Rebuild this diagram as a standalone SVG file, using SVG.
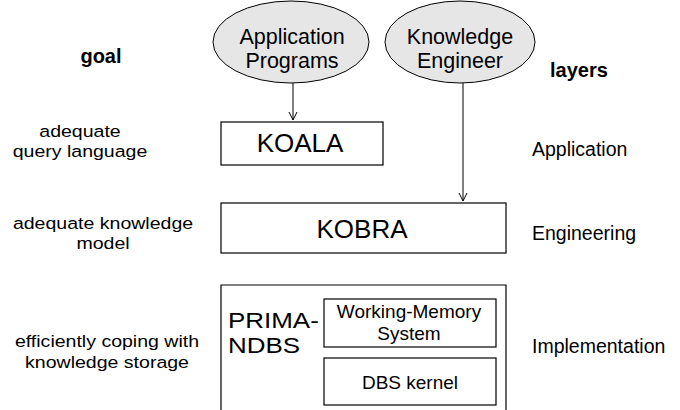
<svg xmlns="http://www.w3.org/2000/svg" width="680" height="410" viewBox="0 0 680 410">
<defs>
<style>
text{font-family:"Liberation Sans",Arial,sans-serif;fill:#000}
.ell{fill:#e6e6e6;stroke:#000;stroke-width:1}
.box{fill:#fff;stroke:#000;stroke-width:1.2}
.lbl{font-size:19.5px}
.lbs{font-size:17px}
.big{font-size:26px}
.pr{font-size:22px}
.mid{font-size:21.5px}
.sm{font-size:19px}
.b{font-weight:bold;font-size:20px}
.c{text-anchor:middle}
.edge{stroke:#000;stroke-width:1;fill:none}
</style>
<marker id="arr" markerWidth="10" markerHeight="10" refX="9" refY="5" orient="auto" markerUnits="userSpaceOnUse">
<path d="M1,1 L9,5 L1,9" fill="none" stroke="#000" stroke-width="1"/>
</marker>
</defs>
<rect width="680" height="410" fill="#fff"/>
<g id="labels-goal">
<text class="b c" x="101" y="63">goal</text>
<text class="lbs c" transform="translate(80,137) scale(1.15,1)">adequate</text>
<text class="lbs c" transform="translate(80,157) scale(1.15,1)">query language</text>
<text class="lbs c" transform="translate(103,229) scale(1.15,1)">adequate knowledge</text>
<text class="lbs c" transform="translate(103,249) scale(1.15,1)">model</text>
<text class="lbs c" transform="translate(107,347) scale(1.15,1)">efficiently coping with</text>
<text class="lbs c" transform="translate(107,368) scale(1.15,1)">knowledge storage</text>
</g>
<g id="labels-layers">
<text class="b" x="550" y="77">layers</text>
<text class="lbl" x="532" y="156">Application</text>
<text class="lbl" x="532" y="240">Engineering</text>
<text class="lbl" x="532" y="353">Implementation</text>
</g>
<g id="connectors">
<line class="edge" x1="293" y1="83" x2="293" y2="120" marker-end="url(#arr)"/>
<line class="edge" x1="463" y1="83" x2="463" y2="201" marker-end="url(#arr)"/>
</g>
<g id="app-programs">
<ellipse class="ell" cx="291" cy="42" rx="78" ry="41"/>
<text class="mid c" x="292" y="44">Application</text>
<text class="mid c" x="292" y="68">Programs</text>
</g>
<g id="knowledge-engineer">
<ellipse class="ell" cx="460" cy="42" rx="75" ry="41"/>
<text class="mid c" x="460" y="44">Knowledge</text>
<text class="mid c" x="460" y="68">Engineer</text>
</g>
<g id="koala">
<rect class="box" x="221" y="122" width="162" height="43"/>
<text class="big c" x="300" y="152">KOALA</text>
</g>
<g id="kobra">
<rect class="box" x="221" y="203" width="285" height="50"/>
<text class="big c" x="362" y="238">KOBRA</text>
</g>
<g id="prima-ndbs">
<path class="box" d="M221,412 V285 H506 V412"/>
<text class="pr" transform="translate(228,328) scale(1.18,1)">PRIMA-</text>
<text class="pr" transform="translate(228,353) scale(1.18,1)">NDBS</text>
</g>
<g id="wms">
<rect class="box" x="324" y="299" width="172" height="48"/>
<text class="sm c" x="409" y="318">Working-Memory</text>
<text class="sm c" x="409" y="340">System</text>
</g>
<g id="dbs-kernel">
<rect class="box" x="324" y="358" width="172" height="47"/>
<text class="sm c" x="410" y="389">DBS kernel</text>
</g>
</svg>
